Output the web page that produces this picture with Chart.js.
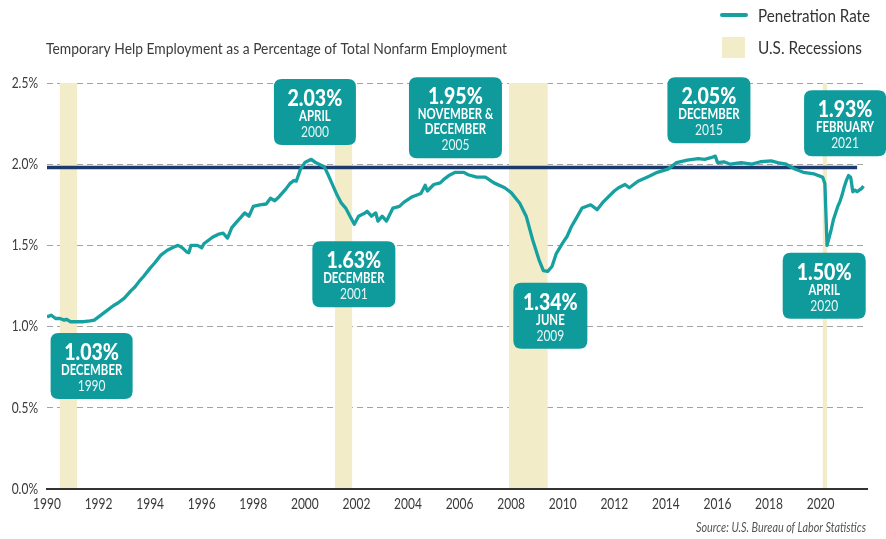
<!DOCTYPE html>
<html>
<head>
<meta charset="utf-8">
<script src="https://cdn.jsdelivr.net/npm/chart.js@4.4.1/dist/chart.umd.min.js"></script>
<style>
  html, body { margin: 0; padding: 0; background: #fff; }
  #wrap { width: 886px; height: 539px; position: relative; }
</style>
</head>
<body>
<div id="wrap"><canvas id="chart" width="886" height="539"></canvas></div>
<script>
  'use strict';

  var FONT = "Lato, 'Open Sans', 'DejaVu Sans Condensed', sans-serif";
  var NARROW = 0.8; // the original face is a condensed sans, squeeze ours to match

  // monthly readings of the penetration rate (%)
  var months = [
    '1990-01', '1990-03', '1990-05', '1990-07', '1990-09', '1990-10', '1990-12',
    '1991-03', '1991-06', '1991-09', '1991-11',
    '1992-01', '1992-03', '1992-05', '1992-08', '1992-10',
    '1993-01', '1993-04', '1993-06', '1993-08', '1993-10',
    '1994-01', '1994-03', '1994-06', '1994-09', '1994-12',
    '1995-02', '1995-04', '1995-06', '1995-07', '1995-08', '1995-11',
    '1996-01', '1996-02', '1996-04', '1996-06', '1996-09', '1996-11',
    '1997-01', '1997-03', '1997-05', '1997-07', '1997-09', '1997-11',
    '1998-01', '1998-04', '1998-07', '1998-09', '1998-11',
    '1999-01', '1999-04', '1999-06', '1999-08', '1999-09', '1999-11',
    '2000-01', '2000-04', '2000-06', '2000-09', '2000-10', '2000-12',
    '2001-02', '2001-04', '2001-06', '2001-08', '2001-10', '2001-12',
    '2002-02', '2002-05', '2002-06', '2002-08', '2002-10', '2002-11',
    '2003-01', '2003-03', '2003-06', '2003-09', '2003-11',
    '2004-03', '2004-07', '2004-09', '2004-10',
    '2005-01', '2005-04', '2005-06', '2005-08', '2005-11', '2005-12',
    '2006-03', '2006-05', '2006-09',
    '2007-01', '2007-05', '2007-10',
    '2008-01', '2008-05', '2008-08', '2008-11',
    '2009-02', '2009-04', '2009-06', '2009-08', '2009-10',
    '2010-01', '2010-03', '2010-05', '2010-07', '2010-10',
    '2011-02', '2011-05', '2011-08',
    '2012-01', '2012-03', '2012-06', '2012-08', '2012-12',
    '2013-05', '2013-09',
    '2014-02', '2014-06', '2014-11',
    '2015-04', '2015-07', '2015-10', '2015-12',
    '2016-01', '2016-04', '2016-07', '2016-12',
    '2017-05', '2017-09',
    '2018-02', '2018-05', '2018-09',
    '2019-01', '2019-05', '2019-10',
    '2020-01', '2020-02', '2020-03', '2020-04', '2020-05', '2020-06', '2020-07',
    '2020-08', '2020-09', '2020-10', '2020-11', '2020-12',
    '2021-01', '2021-02', '2021-03', '2021-04', '2021-05', '2021-06', '2021-07',
    '2021-08', '2021-09'
  ];
  var penetrationRate = [
    1.06, 1.07, 1.05, 1.05, 1.04, 1.045, 1.03,
    1.03, 1.03, 1.035, 1.04,
    1.06, 1.08, 1.10, 1.13, 1.145,
    1.175, 1.22, 1.245, 1.28, 1.31,
    1.36, 1.39, 1.44, 1.47, 1.49,
    1.50, 1.485, 1.46, 1.455, 1.50, 1.50,
    1.485, 1.51, 1.53, 1.55, 1.57, 1.575,
    1.545, 1.61, 1.64, 1.67, 1.70, 1.68,
    1.74, 1.75, 1.755, 1.79, 1.775,
    1.80, 1.845, 1.88, 1.90, 1.895, 1.97,
    2.01, 2.03, 2.01, 1.99, 1.985, 1.93,
    1.87, 1.81, 1.76, 1.73, 1.68, 1.63,
    1.68, 1.70, 1.71, 1.68, 1.70, 1.65,
    1.68, 1.65, 1.73, 1.74, 1.765,
    1.80, 1.82, 1.87, 1.835,
    1.875, 1.885, 1.91, 1.93, 1.95, 1.95,
    1.95, 1.935, 1.92,
    1.92, 1.885, 1.855,
    1.825, 1.76, 1.68, 1.535,
    1.41, 1.345, 1.34, 1.37, 1.45,
    1.515, 1.555, 1.615, 1.66, 1.73,
    1.75, 1.72, 1.77,
    1.835, 1.855, 1.875, 1.855, 1.895,
    1.925, 1.95,
    1.97, 2.01, 2.025,
    2.035, 2.03, 2.04, 2.05,
    2.01, 2.015, 2.00, 2.01,
    2.00, 2.015,
    2.02, 2.01, 2.00,
    1.97, 1.95, 1.94,
    1.925, 1.92, 1.88, 1.50, 1.55, 1.60, 1.66,
    1.70, 1.74, 1.77, 1.81, 1.86,
    1.90, 1.93, 1.92, 1.83, 1.84, 1.83, 1.84,
    1.85, 1.865
  ];

  // horizontal reference level (navy line)
  var referenceLevel = 1.98;
  var referenceFrom = '1990-01';
  var referenceTo = '2021-06';

  // U.S. recessions
  var recessionStart = ['1990-07', '2001-03', '2007-12', '2020-02'];
  var recessionEnd = ['1991-03', '2001-11', '2009-06', '2020-04'];

  // axes
  var yearTicks = [1990, 1992, 1994, 1996, 1998, 2000, 2002, 2004, 2006, 2008, 2010, 2012, 2014, 2016, 2018, 2020];
  var rateTicks = [0, 0.5, 1.0, 1.5, 2.0, 2.5];

  // callouts
  var calloutValue = ['1.03%', '2.03%', '1.95%', '1.63%', '1.34%', '2.05%', '1.93%', '1.50%'];
  var calloutMonth = [['DECEMBER'], ['APRIL'], ['NOVEMBER &', 'DECEMBER'], ['DECEMBER'], ['JUNE'], ['DECEMBER'], ['FEBRUARY'], ['APRIL']];
  var calloutYear = ['1990', '2000', '2005', '2001', '2009', '2015', '2021', '2020'];
  var calloutAtYear = [1991.73, 2000.39, 2005.84, 2001.90, 2009.52, 2015.67, 2020.95, 2020.14];
  var calloutAtRate = [0.96, 2.525, 2.535, 1.525, 1.27, 2.535, 2.455, 1.455];

  var titleText = 'Temporary Help Employment as a Percentage of Total Nonfarm Employment';
  var sourceText = 'Source: U.S. Bureau of Labor Statistics';
  var legendLabels = ['Penetration Rate', 'U.S. Recessions'];

  var TEAL = '#17a0a0';
  var BOX = '#0f9a9b';
  var NAVY = '#1c3a6c';
  var BEIGE = '#f3ecc9';

  function toYear(m) {
    var parts = m.split('-');
    return Number(parts[0]) + (Number(parts[1]) - 1) / 12;
  }

  function narrowText(ctx, text, x, y, font, align, squeeze) {
    ctx.save();
    ctx.font = font;
    ctx.textAlign = align;
    ctx.textBaseline = 'middle';
    ctx.translate(x, y);
    ctx.scale(squeeze || NARROW, 1);
    ctx.fillText(text, 0, 0);
    ctx.restore();
  }

  function roundRect(ctx, x, y, w, h, r) {
    ctx.beginPath();
    ctx.moveTo(x + r, y);
    ctx.lineTo(x + w - r, y);
    ctx.quadraticCurveTo(x + w, y, x + w, y + r);
    ctx.lineTo(x + w, y + h - r);
    ctx.quadraticCurveTo(x + w, y + h, x + w - r, y + h);
    ctx.lineTo(x + r, y + h);
    ctx.quadraticCurveTo(x, y + h, x, y + h - r);
    ctx.lineTo(x, y + r);
    ctx.quadraticCurveTo(x, y, x + r, y);
    ctx.closePath();
  }

  var recessionBands = {
    id: 'recessionBands',
    beforeDatasetsDraw: function (chart) {
      var ctx = chart.ctx;
      var xs = chart.scales.x;
      var ys = chart.scales.y;
      var area = chart.chartArea;
      ctx.save();
      ctx.fillStyle = BEIGE;
      recessionStart.forEach(function (start, i) {
        var x0 = xs.getPixelForValue(toYear(start));
        var x1 = xs.getPixelForValue(toYear(recessionEnd[i]));
        var top = ys.getPixelForValue(rateTicks[rateTicks.length - 1]);
        ctx.fillRect(x0, top, x1 - x0, area.bottom - 1 - top);
      });
      ctx.restore();
    }
  };

  // tick labels are drawn here so they can use the narrow squeeze
  var axisLabels = {
    id: 'axisLabels',
    afterDraw: function (chart) {
      var ctx = chart.ctx;
      var xs = chart.scales.x;
      var ys = chart.scales.y;
      ctx.save();
      ctx.fillStyle = '#3a3a3a';
      xs.ticks.forEach(function (t) {
        narrowText(ctx, String(t.value), xs.getPixelForValue(t.value), 504, '15px ' + FONT, 'center');
      });
      ys.ticks.forEach(function (t) {
        narrowText(ctx, t.value.toFixed(1) + '%', 38, ys.getPixelForValue(t.value), '15px ' + FONT, 'right');
      });
      ctx.restore();
    }
  };

  var callouts = {
    id: 'callouts',
    afterDatasetsDraw: function (chart, args, opts) {
      var ctx = chart.ctx;
      var xs = chart.scales.x;
      var ys = chart.scales.y;
      ctx.save();
      calloutValue.forEach(function (value, i) {
        var cx = xs.getPixelForValue(calloutAtYear[i]);
        var top = ys.getPixelForValue(calloutAtRate[i]);
        var w = opts.widths[i];
        var monthLines = calloutMonth[i];
        var h = 51 + monthLines.length * 15;
        ctx.fillStyle = BOX;
        roundRect(ctx, cx - w / 2, top, w, h, 8);
        ctx.fill();

        ctx.fillStyle = '#ffffff';
        narrowText(ctx, value, cx, top + 19.5, '900 23px ' + FONT, 'center', 0.85);
        monthLines.forEach(function (line, j) {
          narrowText(ctx, line, cx, top + 37 + j * 15, 'bold 15px ' + FONT, 'center', 0.76);
        });
        ctx.fillStyle = 'rgba(255,255,255,0.9)';
        narrowText(ctx, calloutYear[i], cx, top + 38 + monthLines.length * 15, '15px ' + FONT, 'center', 0.8);
      });
      ctx.restore();
    }
  };

  var frameText = {
    id: 'frameText',
    afterDraw: function (chart) {
      var ctx = chart.ctx;
      ctx.save();
      ctx.textBaseline = 'middle';
      ctx.textAlign = 'left';
      ctx.fillStyle = '#3c3c3c';
      ctx.font = '16px ' + FONT;
      ctx.fillText(titleText, 46, 49, 461);

      // legend
      ctx.strokeStyle = TEAL;
      ctx.lineWidth = 4;
      ctx.lineCap = 'round';
      ctx.beginPath();
      ctx.moveTo(722, 15);
      ctx.lineTo(746, 15);
      ctx.stroke();
      ctx.fillStyle = BEIGE;
      ctx.fillRect(722, 37, 23, 21);
      ctx.fillStyle = '#333333';
      ctx.font = '18px ' + FONT;
      ctx.fillText(legendLabels[0], 758, 16, 112);
      ctx.fillText(legendLabels[1], 758, 48, 104);

      ctx.textAlign = 'right';
      ctx.fillStyle = '#555555';
      ctx.font = 'italic 13px ' + FONT;
      ctx.fillText(sourceText, 866, 528, 170);
      ctx.restore();
    }
  };

  var ratePoints = months.map(function (m, i) {
    return { x: toYear(m), y: penetrationRate[i] };
  });
  var referencePoints = [
    { x: toYear(referenceFrom), y: referenceLevel },
    { x: toYear(referenceTo), y: referenceLevel }
  ];

  new Chart(document.getElementById('chart').getContext('2d'), {
    type: 'line',
    data: {
      datasets: [
        {
          label: legendLabels[0],
          data: ratePoints,
          borderColor: TEAL,
          borderWidth: 3.3,
          pointRadius: 0,
          tension: 0,
          borderJoinStyle: 'round',
          order: 0
        },
        {
          label: 'Reference',
          data: referencePoints,
          borderColor: NAVY,
          borderWidth: 3.5,
          pointRadius: 0,
          order: 1
        }
      ]
    },
    options: {
      responsive: false,
      animation: false,
      layout: { padding: { top: 83, right: 19, bottom: 20, left: 0 } },
      plugins: {
        legend: { display: false },
        tooltip: { enabled: false },
        callouts: { widths: [82, 82, 93, 83, 74, 83, 82, 83] }
      },
      scales: {
        x: {
          type: 'linear',
          min: 1990,
          max: 2021.8,
          afterBuildTicks: function (scale) {
            scale.ticks = yearTicks.map(function (v) { return { value: v }; });
          },
          afterFit: function (scale) { scale.height = 30; },
          grid: { display: false, drawTicks: false },
          border: { display: true, color: '#333333', width: 2 },
          ticks: { display: false }
        },
        y: {
          min: 0,
          max: 2.5,
          afterBuildTicks: function (scale) {
            scale.ticks = rateTicks.map(function (v) { return { value: v }; });
          },
          afterFit: function (scale) { scale.width = 47; },
          grid: { color: '#a3a3a3', lineWidth: 1, drawTicks: false },
          border: { display: false, dash: [6, 4] },
          ticks: { display: false }
        }
      }
    },
    plugins: [recessionBands, callouts, axisLabels, frameText]
  });
</script>
</body>
</html>
